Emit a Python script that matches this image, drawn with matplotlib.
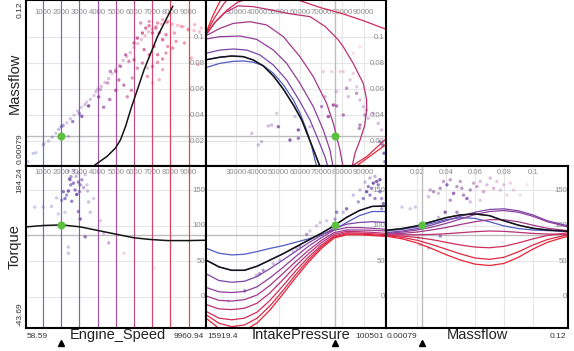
import matplotlib.pyplot as plt
from matplotlib.colors import LinearSegmentedColormap, Normalize
from matplotlib.transforms import blended_transform_factory, offset_copy

plt.rcParams['font.family'] = ['Liberation Sans', 'DejaVu Sans']

# value spans printed on the margins
speed_span = (58.59, 9960.94)
pressure_span = (15919.4, 100501)
massflow_span = (0.00079, 0.12)
torque_span = (-43.69, 184.24)
span_text = {'speed': ('58.59', '9960.94'), 'pressure': ('15919.4', '100501'),
             'massflow': ('0.00079', '0.12'), 'torque': ('-43.69', '184.24')}

# current slice
cur_speed = 2000
cur_pressure = 76500
cur_massflow = 0.0236
cur_torque = 100.8
torque_ref = 86.5

speed_steps = [1000, 2000, 3000, 4000, 5000, 6000, 7000, 8000, 9000]

speed_ticks = [1000, 2000, 3000, 4000, 5000, 6000, 7000, 8000, 9000]
pressure_ticks = [30000, 40000, 50000, 60000, 70000, 80000, 90000]
massflow_ticks = [0.02, 0.04, 0.06, 0.08, 0.1]
torque_ticks = [0, 50, 100, 150]

# sample points (x, y, relevance) -- Massflow vs Engine_Speed
speed_massflow_pts = [
    (170, 0.004, 0.25), (450, 0.0105, 0.3), (600, 0.011, 0.3), (1000, 0.017, 0.35),
    (1050, 0.018, 0.3), (1300, 0.020, 0.3), (1500, 0.023, 0.35), (1700, 0.026, 0.3),
    (1850, 0.029, 0.35), (2000, 0.031, 0.6), (2100, 0.032, 0.5), (2390, 0.0236, 0.3),
    (2300, 0.034, 0.25), (2500, 0.037, 0.3), (2700, 0.040, 0.25), (2900, 0.043, 0.3),
    (3000, 0.041, 0.5), (3100, 0.046, 0.25), (3300, 0.048, 0.3), (3400, 0.050, 0.25),
    (3600, 0.052, 0.3), (3800, 0.055, 0.25), (3900, 0.058, 0.3), (4000, 0.060, 0.25),
    (4200, 0.062, 0.3), (4400, 0.065, 0.3), (4600, 0.068, 0.3), (4800, 0.072, 0.25),
    (5000, 0.075, 0.3), (5200, 0.078, 0.3), (5400, 0.082, 0.3), (5600, 0.085, 0.3),
    (5800, 0.088, 0.3), (6000, 0.092, 0.3), (6200, 0.095, 0.3), (6400, 0.098, 0.3),
    (6600, 0.101, 0.3), (6800, 0.104, 0.3), (7000, 0.106, 0.35), (7200, 0.108, 0.35),
    (7500, 0.110, 0.35), (7800, 0.111, 0.4), (8100, 0.110, 0.35), (8400, 0.109, 0.3),
    (8700, 0.108, 0.3), (9000, 0.106, 0.3), (9300, 0.105, 0.3), (9600, 0.104, 0.3),
    (3500, 0.047, 0.8), (3130, 0.039, 0.7), (2630, 0.035, 0.6), (4056, 0.054, 0.7),
    (4333, 0.046, 0.6), (4667, 0.052, 0.6), (5000, 0.059, 0.7), (5167, 0.067, 0.6),
    (5444, 0.063, 0.6), (5630, 0.054, 0.5), (5852, 0.059, 0.5), (4556, 0.0646, 0.45),
    (4148, 0.0595, 0.4), (4700, 0.0736, 0.55), (5000, 0.0736, 0.6), (5259, 0.0774, 0.55),
    (5537, 0.0864, 0.6), (5722, 0.0813, 0.55), (6000, 0.0826, 0.6), (6185, 0.076, 0.5),
    (5907, 0.0685, 0.45), (6000, 0.0954, 0.65), (6185, 0.0992, 0.7), (6463, 0.1031, 0.7),
    (6648, 0.1069, 0.65), (6833, 0.1087, 0.6), (7019, 0.1031, 0.7), (7204, 0.1069, 0.6),
    (7389, 0.1031, 0.65), (7574, 0.098, 0.7), (7759, 0.1018, 0.6), (6556, 0.0903, 0.65),
    (6833, 0.0864, 0.6), (7111, 0.0928, 0.6), (7296, 0.0864, 0.6), (7574, 0.0831, 0.55),
    (7759, 0.0877, 0.5), (7019, 0.0774, 0.55), (7296, 0.0805, 0.5), (6463, 0.08, 0.55),
    (6741, 0.0697, 0.45), (7852, 0.0928, 0.5), (8130, 0.0915, 0.55), (8315, 0.0967, 0.5),
    (8778, 0.0954, 0.5), (9148, 0.0838, 0.4), (9519, 0.0787, 0.35), (7574, 0.0749, 0.4),
    (7389, 0.0672, 0.35), (8222, 0.1031, 0.45), (8593, 0.1082, 0.4), (8963, 0.1056, 0.4),
    (9333, 0.1095, 0.35), (9704, 0.1069, 0.3), (6370, 0.1108, 0.5), (6833, 0.112, 0.45),
    (7296, 0.1108, 0.5), (7574, 0.1133, 0.4), (7852, 0.112, 0.45), (6741, 0.0762, 0.3),
    (7019, 0.0646, 0.3),
]

# (x, y, engine speed, relevance) -- Massflow vs IntakePressure
pressure_massflow_pts = [
    (37373, 0.0259, 3500, 0.3), (40505, 0.017, 3500, 0.3), (42071, 0.0195, 3500, 0.3),
    (45203, 0.0316, 3500, 0.3), (46769, 0.0323, 3500, 0.3), (49901, 0.031, 4000, 0.7),
    (49118, 0.0413, 3500, 0.25), (55382, 0.0208, 3000, 0.75), (59297, 0.0221, 3500, 0.6),
    (59297, 0.0285, 3500, 0.75), (57731, 0.0388, 3500, 0.25), (64778, 0.031, 3500, 0.3),
    (73391, 0.0388, 4000, 0.75), (70259, 0.0465, 4000, 0.55), (75740, 0.0477, 4500, 0.75),
    (77306, 0.047, 4500, 0.6), (80438, 0.040, 4000, 0.6), (71825, 0.0541, 4000, 0.35),
    (77306, 0.058, 4500, 0.25), (82004, 0.0606, 4500, 0.5), (83570, 0.067, 5000, 0.25),
    (86702, 0.0618, 5000, 0.25), (86702, 0.0567, 4500, 0.5), (88268, 0.0516, 4500, 0.3),
    (89834, 0.0465, 4500, 0.3), (91400, 0.0439, 4500, 0.3), (88268, 0.0323, 4000, 0.55),
    (87955, 0.0298, 4000, 0.55), (90617, 0.040, 4000, 0.5), (92183, 0.0375, 4000, 0.3),
    (94532, 0.0413, 4000, 0.3), (96881, 0.0336, 4000, 0.3), (98447, 0.0285, 4000, 0.3),
    (80438, 0.0734, 5500, 0.2), (85136, 0.0721, 5500, 0.2), (88268, 0.0926, 6000, 0.15),
    (74957, 0.0734, 5500, 0.2), (78872, 0.0734, 5500, 0.2), (71042, 0.0734, 5500, 0.2),
    (85136, 0.0875, 6000, 0.15), (82787, 0.0541, 4500, 0.3),
    (98917, 0.017, 1500, 0.7), (99543, 0.0106, 1500, 0.75), (100013, 0.0041, 1500, 0.7),
    (97665, 0.0195, 2000, 0.5),
]

# (x, y, relevance) -- Torque vs Engine_Speed
speed_torque_pts = [
    (537, 126.4, 0.3), (1000, 126.4, 0.35), (1463, 127.4, 0.3), (1741, 139.4, 0.3),
    (2111, 148.1, 0.7), (2204, 138.5, 0.65), (2389, 149.0, 0.8), (2481, 164.9, 0.6),
    (2519, 157.7, 0.6), (2667, 160.1, 0.6), (2759, 150.5, 0.6), (2852, 144.2, 0.8),
    (2944, 161.6, 0.6), (3037, 157.7, 0.55), (3130, 164.9, 0.5), (2444, 166.3, 0.5),
    (2537, 169.2, 0.5), (2296, 143.3, 0.5), (2019, 136.1, 0.5), (2574, 134.6, 0.6),
    (3000, 148.1, 0.5), (3222, 153.8, 0.4), (3444, 149.0, 0.3), (3500, 133.7, 0.3),
    (2944, 120.2, 0.6), (3037, 109.6, 0.75), (3315, 84.6, 0.65), (2389, 70.2, 0.3),
    (2389, 61.5, 0.3), (3593, 119.2, 0.3), (4148, 107.2, 0.25), (4333, 89.4, 0.25),
    (4611, 76.0, 0.4), (5444, 61.5, 0.2), (7111, 41.3, 0.12), (3778, 138.5, 0.25),
    (1833, 116.8, 0.25), (3407, 157.7, 0.25), (2204, 119.2, 0.25), (2667, 177.9, 0.3),
    (2944, 174.5, 0.3), (2815, 169.7, 0.35), (3315, 172.1, 0.25), (2389, 176.9, 0.3),
]

# (x, y, engine speed, relevance) -- Torque vs IntakePressure
pressure_torque_pts = [
    (94532, 160.1, 2500, 0.8), (96098, 162.5, 2500, 0.8), (96881, 157.7, 2500, 0.6),
    (97664, 164.9, 2500, 0.8), (93746, 152.9, 2500, 0.6), (91400, 148.1, 2500, 0.8),
    (92966, 143.3, 2500, 0.6), (89834, 138.5, 2500, 0.6), (87485, 133.7, 2500, 0.5),
    (95315, 138.5, 2500, 0.6), (97664, 148.1, 2500, 0.6), (98447, 138.5, 2500, 0.5),
    (92183, 155.3, 2500, 0.6), (90617, 161.5, 3000, 0.3), (92966, 167.3, 3000, 0.35),
    (95315, 169.7, 3000, 0.35), (88268, 150.5, 3000, 0.3), (85136, 143.3, 3000, 0.3),
    (81991, 124.0, 2500, 0.7), (80438, 119.2, 3000, 0.3), (77306, 119.2, 2500, 0.6),
    (76520, 109.6, 3000, 0.4), (72609, 107.2, 3000, 0.25), (69477, 104.8, 3000, 0.25),
    (64778, 92.8, 3000, 0.25), (59980, 71.2, 3000, 0.45), (58414, 68.7, 3000, 0.35),
    (56848, 63.9, 3000, 0.25), (50584, 51.9, 3000, 0.25), (47452, 47.1, 3000, 0.3),
    (42754, 37.5, 3000, 0.5), (41188, 32.7, 3000, 0.5), (39622, 30.3, 3000, 0.35),
    (34141, 8.7, 2500, 0.6), (26411, -5.8, 3000, 0.25), (63212, 88.0, 3000, 0.45),
    (67907, 100.0, 3000, 0.25), (98447, 124.0, 2500, 0.5), (99230, 131.3, 2500, 0.7),
]

# (x, y, engine speed, relevance) -- Torque vs Massflow
massflow_torque_pts = [
    (0.0097, 126.4, 3000, 0.25), (0.0154, 124.0, 3000, 0.25), (0.0189, 126.4, 3000, 0.25),
    (0.028, 140.9, 3500, 0.3), (0.0315, 148.1, 3500, 0.5), (0.0361, 152.9, 3500, 0.5),
    (0.0384, 162.5, 4000, 0.45), (0.0407, 157.7, 3500, 0.7), (0.043, 164.9, 4000, 0.45),
    (0.0453, 145.7, 3500, 0.7), (0.0476, 155.3, 4000, 0.5), (0.0499, 162.5, 4000, 0.45),
    (0.051, 152.9, 4000, 0.5), (0.0522, 143.3, 4000, 0.55), (0.0545, 138.5, 3500, 0.7),
    (0.0568, 150.5, 4000, 0.5), (0.0591, 160.1, 4500, 0.4), (0.0614, 155.3, 4500, 0.45),
    (0.0637, 162.5, 4500, 0.3), (0.066, 148.1, 4500, 0.4), (0.0683, 157.7, 4500, 0.3),
    (0.0706, 167.3, 5000, 0.3), (0.0729, 152.9, 5000, 0.35), (0.0752, 162.5, 5000, 0.25),
    (0.0775, 150.5, 5000, 0.25), (0.0798, 157.7, 5500, 0.25), (0.0821, 143.3, 5500, 0.2),
    (0.0844, 160.1, 5500, 0.2), (0.0867, 150.5, 5500, 0.2), (0.0913, 143.3, 6000, 0.15),
    (0.0959, 157.7, 6000, 0.12), (0.0395, 119.2, 3500, 0.75), (0.0476, 119.2, 3500, 0.55),
    (0.0349, 112.0, 3500, 0.3), (0.0361, 85.6, 3500, 0.55), (0.0223, 73.6, 3000, 0.3),
    (0.028, 68.7, 3000, 0.3), (0.0211, 83.2, 3000, 0.3), (0.0568, 133.7, 4000, 0.3),
    (0.0637, 136.1, 4500, 0.25), (0.0349, 145.7, 3500, 0.3), (0.0292, 150.5, 3500, 0.4),
    (0.043, 136.1, 3500, 0.5),
]

# slice through the current point
speed_massflow_line = [(3870, 0.0018), (4519, 0.0082), (4981, 0.0146), (5259, 0.021),
                       (5537, 0.0313), (5815, 0.0441), (6000, 0.0518), (6556, 0.0749),
                       (6926, 0.0877), (7296, 0.1005), (7667, 0.1108), (8130, 0.1236)]
speed_torque_line = [(74, 98.6), (1000, 100.5), (2000, 101.4), (3037, 98.6), (4148, 92.8),
                     (5074, 88.0), (6000, 83.2), (6926, 80.8), (7852, 79.3), (8963, 79.3),
                     (9960, 79.8)]

# one curve per engine speed step -- Massflow vs IntakePressure
nan = float('nan')
pressure_massflow_curves = [
    [(15919, 0.0765), (22500, 0.0798), (28800, 0.0813), (33500, 0.0816), (38200, 0.0806),
     (42900, 0.078), (47600, 0.0721), (52300, 0.0631), (57000, 0.0516), (60100, 0.0413),
     (63200, 0.0285), (65600, 0.0157), (67100, 0.0054), (68200, -0.001)],
    [(15919, 0.0825), (22500, 0.0845), (28000, 0.0854), (33500, 0.0849), (38200, 0.0823),
     (42900, 0.0777), (47600, 0.070), (52300, 0.0598), (57000, 0.0477), (60900, 0.0362),
     (64000, 0.0234), (67100, 0.0105), (69800, -0.001)],
    [(15919, 0.0875), (22496, 0.090), (28760, 0.0908), (35024, 0.090), (41288, 0.0862),
     (47552, 0.0785), (53816, 0.067), (60080, 0.0503), (64778, 0.0362), (68693, 0.0208),
     (71825, 0.008), (73391, -0.001)],
    [(15919, 0.0985), (22496, 0.1003), (31892, 0.1008), (39722, 0.0982), (47552, 0.090),
     (53816, 0.0798), (60080, 0.0644), (66344, 0.0464), (71042, 0.0285), (74174, 0.0131),
     (75740, -0.001)],
    [(15919, 0.101), (22496, 0.1067), (28760, 0.1105), (36590, 0.1118), (44420, 0.1093),
     (52250, 0.1003), (60080, 0.0849), (66344, 0.0695), (72608, 0.049), (75740, 0.0336),
     (78872, 0.0131), (80438, -0.001)],
    [(15919, 0.1015), (20000, 0.111), (25000, 0.119), (31000, 0.124), (38000, 0.1234),
     (46000, 0.121), (55000, 0.118), (64800, 0.1157), (72000, 0.108), (78000, 0.098),
     (80400, 0.0926), (85000, 0.080), (89800, 0.0644), (91400, 0.052), (91400, 0.0439),
     (90500, 0.032), (88300, 0.0208), (86000, 0.011), (84400, -0.001)],
    [(15919, 0.102), (21000, 0.113), (26000, 0.121), (31000, 0.127), (40000, 0.1315),
     (50000, 0.132), (60000, 0.128), (70000, 0.1225), (80000, 0.118), (90000, 0.1125),
     (100501, 0.106)],
    [(15919, 0.1025), (20000, 0.115), (24000, 0.125), (28000, 0.133), (nan, nan),
     (82787, -0.001), (91400, 0.008), (100796, 0.0221)],
    [(15919, 0.103), (19000, 0.116), (22000, 0.126), (25000, 0.134), (nan, nan),
     (85136, -0.001), (93746, 0.0093), (100796, 0.0177)],
]

# one curve per engine speed step -- Torque vs IntakePressure
pressure_grid = [15919.4, 22000, 28000, 34000, 40000, 46000, 52000, 58000, 64000,
                 70000, 76000, 82000, 88000, 94000, 100501]
pressure_torque_curves = [
    [68.7, 61.5, 59.1, 60.1, 63.9, 68.3, 72.1, 76.9, 81.7, 87.5, 94.2, 104.8, 114.4, 120.2, 120.2],
    [51.9, 42.3, 37.5, 37.5, 43.3, 51.9, 60.6, 70.2, 79.8, 89.4, 100.0, 112.0, 121.6, 127.4, 127.9],
    [32.7, 23.1, 20.7, 22.1, 28.8, 39.9, 51.9, 63.9, 76.0, 86.5, 96.6, 102.4, 104.8, 105.8, 104.8],
    [13.5, 7.2, 6.2, 7.7, 14.4, 26.9, 41.3, 56.7, 71.2, 83.2, 93.8, 97.6, 97.6, 96.6, 95.2],
    [1.4, -4.8, -5.8, -3.8, 2.9, 16.3, 32.7, 49.5, 65.4, 79.3, 90.4, 94.2, 94.2, 93.8, 92.8],
    [-10.6, -16.8, -17.8, -15.9, -8.7, 5.8, 24.0, 43.3, 60.6, 76.0, 88.0, 92.3, 91.8, 90.9, 89.4],
    [-20.2, -29.8, -32.2, -29.8, -21.2, -4.8, 15.4, 36.5, 55.8, 72.6, 85.6, 90.4, 89.9, 88.9, 87.5],
    [-25.0, -37.0, -41.8, -39.4, -29.8, -12.5, 8.7, 31.2, 51.9, 70.2, 84.1, 88.9, 88.5, 87.5, 86.1],
    [-29.8, -44.2, -50.0, -47.1, -36.5, -18.3, 3.8, 26.9, 48.6, 67.8, 82.7, 87.5, 87.5, 86.5, 85.1],
]

# one curve per engine speed step -- Torque vs Massflow
massflow_grid = [-0.0013, 0.01, 0.02, 0.03, 0.04, 0.05, 0.06, 0.07, 0.08, 0.09, 0.1, 0.11, 0.1242]
massflow_torque_curves = [
    [92.8, 95.2, 98.6, 103.4, 108.7, 111.5, 110.6, 105.8, 100.0, 96.2, 94.2, 93.3, 92.3],
    [93.8, 96.2, 100.0, 105.8, 111.5, 115.4, 116.8, 114.4, 107.2, 101.0, 96.6, 94.2, 92.3],
    [90.4, 92.8, 96.2, 101.0, 107.2, 113.5, 119.2, 123.1, 124.0, 121.2, 115.4, 107.2, 100.0],
    [89.4, 91.3, 94.2, 98.1, 103.4, 109.6, 115.9, 120.2, 121.6, 119.2, 113.5, 105.8, 98.6],
    [88.5, 89.4, 91.3, 94.2, 97.6, 101.9, 105.8, 108.7, 108.7, 105.8, 101.0, 96.6, 93.3],
    [87.5, 87.5, 87.5, 88.0, 88.9, 90.4, 91.8, 92.8, 92.3, 90.9, 89.4, 88.5, 88.0],
    [86.5, 85.6, 83.7, 80.8, 76.9, 73.1, 70.2, 69.2, 71.2, 76.0, 81.7, 86.5, 90.4],
    [86.5, 83.7, 79.8, 74.0, 67.3, 60.6, 54.8, 52.9, 55.8, 63.5, 73.1, 80.8, 87.5],
    [85.6, 81.7, 76.0, 68.3, 59.6, 51.9, 46.2, 44.2, 47.1, 55.8, 67.3, 76.9, 85.6],
]

# ---------------------------------------------------------------- drawing
W, H = 574, 351
fig = plt.figure(figsize=(W / 100, H / 100), dpi=100)

line_cmap = LinearSegmentedColormap.from_list(
    'lines', ['#4f5cc0', '#7b45a8', '#a3378c', '#d02c5c', '#ea2436'])
dot_cmap = LinearSegmentedColormap.from_list(
    'dots', ['#5a58b8', '#5e309a', '#9a2a88', '#d0306a', '#e84060'])
snorm = Normalize(1000, 9000)
green = '#5cc043'
tick_grey = '#8c8c8c'


def panel(l, t, r, b):
    return fig.add_axes([l / W, 1 - b / H, (r - l) / W, (b - t) / H])


def frame(ax, xlim, ylim, xticks, yticks, label_drop):
    ax.set_xlim(xlim)
    ax.set_ylim(ylim)
    ax.set_xticks(xticks)
    ax.set_yticks(yticks)
    ax.tick_params(length=0, labelbottom=False, labelleft=False)
    ax.grid(True, color='#e6e6e6', lw=0.8)
    ax.set_axisbelow(True)
    for s in ax.spines.values():
        s.set_linewidth(1.5)
        s.set_color('black')
        s.set_zorder(10)
    top = offset_copy(blended_transform_factory(ax.transData, ax.transAxes), fig,
                      y=-label_drop, units='dots')
    for v in xticks:
        ax.text(v, 1, '%g' % v, transform=top, ha='center', va='center', fontsize=5.6,
                color=tick_grey, zorder=1)
    right = offset_copy(blended_transform_factory(ax.transAxes, ax.transData), fig, x=-1, units='dots')
    for v in yticks:
        ax.text(1, v, '%g' % v, transform=right, ha='right', va='center', fontsize=5.6,
                color=tick_grey, zorder=1)


def dots(ax, pts, with_speed):
    xs = [p[0] for p in pts]
    ys = [p[1] for p in pts]
    if with_speed:
        cols = [dot_cmap(snorm(p[2]))[:3] + (p[3],) for p in pts]
    else:
        cols = [dot_cmap(snorm(p[0]))[:3] + (p[2],) for p in pts]
    ax.scatter(xs, ys, s=6, c=cols, linewidths=0, zorder=2)


mf_ylim = (0.00079, 0.1285)
mf_xlim = (-0.0013, 0.1242)

ax_sm = panel(26, 0, 206, 166)
ax_pm = panel(206, 0, 386, 166)
ax_st = panel(26, 166, 206, 328)
ax_pt = panel(206, 166, 386, 328)
ax_mt = panel(386, 166, 568, 328)

frame(ax_sm, speed_span, mf_ylim, speed_ticks, massflow_ticks, 13)
frame(ax_pm, pressure_span, mf_ylim, pressure_ticks, massflow_ticks, 13)
frame(ax_st, speed_span, torque_span, speed_ticks, torque_ticks, 7)
frame(ax_pt, pressure_span, torque_span, pressure_ticks, torque_ticks, 7)
frame(ax_mt, mf_xlim, torque_span, massflow_ticks, torque_ticks, 7)

ref = '#bdbdbd'
for ax in (ax_sm, ax_pm):
    ax.axhline(cur_massflow, color=ref, lw=1, zorder=1)
for ax in (ax_st, ax_pt, ax_mt):
    ax.axhline(torque_ref, color=ref, lw=1, zorder=1)
for ax in (ax_pm, ax_pt):
    ax.axvline(cur_pressure, color=ref, lw=1, zorder=1)
ax_mt.axvline(cur_massflow, color=ref, lw=1, zorder=1)

# engine speed steps as vertical lines
for ax in (ax_sm, ax_st):
    for s in speed_steps:
        ax.axvline(s, color=line_cmap(snorm(s)), lw=0.85, alpha=0.85, zorder=3)

dots(ax_sm, speed_massflow_pts, False)
dots(ax_st, speed_torque_pts, False)
dots(ax_pm, pressure_massflow_pts, True)
dots(ax_pt, pressure_torque_pts, True)
dots(ax_mt, massflow_torque_pts, True)

for s, curve in zip(speed_steps, pressure_massflow_curves):
    ax_pm.plot([p[0] for p in curve], [p[1] for p in curve], color=line_cmap(snorm(s)), lw=0.9, zorder=3)
for s, tq in zip(speed_steps, pressure_torque_curves):
    ax_pt.plot(pressure_grid, tq, color=line_cmap(snorm(s)), lw=0.9, zorder=3)
for s, tq in zip(speed_steps, massflow_torque_curves):
    ax_mt.plot(massflow_grid, tq, color=line_cmap(snorm(s)), lw=0.9, zorder=3)

# black curves = current engine speed
k = speed_steps.index(cur_speed)
cur_curve = pressure_massflow_curves[k]
ax_pm.plot([p[0] for p in cur_curve], [p[1] for p in cur_curve], color='#151515', lw=1.1, zorder=4)
ax_pt.plot(pressure_grid, pressure_torque_curves[k], color='#151515', lw=1.1, zorder=4)
ax_mt.plot(massflow_grid, massflow_torque_curves[k], color='#151515', lw=1.1, zorder=4)
ax_sm.plot([p[0] for p in speed_massflow_line], [p[1] for p in speed_massflow_line], color='#151515', lw=1.1, zorder=4)
ax_st.plot([p[0] for p in speed_torque_line], [p[1] for p in speed_torque_line], color='#151515', lw=1.1, zorder=4)

# current point
ax_sm.scatter([cur_speed], [cur_massflow], s=34, color=green, zorder=6, linewidths=0)
ax_pm.scatter([cur_pressure], [cur_massflow], s=34, color=green, zorder=6, linewidths=0)
ax_st.scatter([cur_speed], [cur_torque], s=34, color=green, zorder=6, linewidths=0)
ax_pt.scatter([cur_pressure], [cur_torque], s=34, color=green, zorder=6, linewidths=0)
ax_mt.scatter([cur_massflow], [cur_torque], s=34, color=green, zorder=6, linewidths=0)

# bottom margin: spans, names and current-value markers
for ax, key, name, cur, cx in ((ax_st, 'speed', 'Engine_Speed', cur_speed, 0.51),
                               (ax_pt, 'pressure', 'IntakePressure', cur_pressure, 0.53),
                               (ax_mt, 'massflow', 'Massflow', cur_massflow, 0.5)):
    below = offset_copy(ax.transAxes, fig, y=-8, units='dots')
    lo, hi = span_text[key]
    ax.text(0.006, 0, lo, transform=below, ha='left', va='center', fontsize=6, color='#333333')
    ax.text(0.99, 0, hi, transform=below, ha='right', va='center', fontsize=6, color='#333333')
    ax.text(cx, 0, name, transform=offset_copy(ax.transAxes, fig, y=-7, units='dots'),
            ha='center', va='center', fontsize=10.5, color='#222222')
    mark = offset_copy(blended_transform_factory(ax.transData, ax.transAxes), fig, y=-15, units='dots')
    ax.plot([cur], [0], transform=mark, marker='^', ms=4, color='black', clip_on=False)

# left margin
for ax, key, name in ((ax_sm, 'massflow', 'Massflow'), (ax_st, 'torque', 'Torque')):
    side = offset_copy(ax.transAxes, fig, x=-6, units='dots')
    lo, hi = span_text[key]
    ax.text(0, 0.99, hi, transform=side, rotation=90, ha='center', va='top', fontsize=6, color='#333333')
    ax.text(0, 0.01, lo, transform=side, rotation=90, ha='center', va='bottom', fontsize=6, color='#333333')
    ax.text(0, 0.5, name, transform=offset_copy(ax.transAxes, fig, x=-11, units='dots'),
            rotation=90, ha='center', va='center', fontsize=10.5, color='#222222')

fig.savefig('out.png', dpi=100)
